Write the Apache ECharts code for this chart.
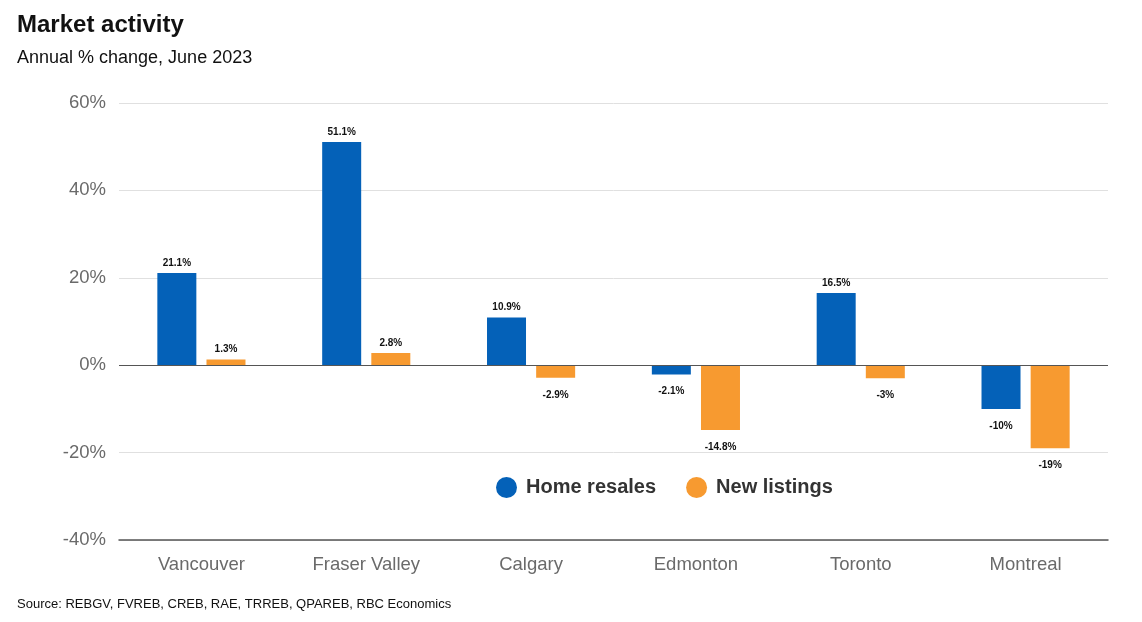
<!DOCTYPE html>
<html>
<head>
<meta charset="utf-8">
<script src="https://cdn.jsdelivr.net/npm/echarts@6/dist/echarts.min.js"></script>
<style>
html,body{margin:0;padding:0;background:#fff;}
#chart{width:1142px;height:622px;}
</style>
</head>
<body>
<div id="chart"></div>
<script>
const categories = ['Vancouver', 'Fraser Valley', 'Calgary', 'Edmonton', 'Toronto', 'Montreal'];
const homeResales = [21.1, 51.1, 10.9, -2.1, 16.5, -10];
const newListings = [1.3, 2.8, -2.9, -14.8, -3, -19];
const yTicks = [-40, -20, 0, 20, 40, 60];

const FONT = 'Liberation Sans, Arial, Helvetica, sans-serif';

function toItems(arr) {
  return arr.map(v => ({
    value: v,
    label: { position: v >= 0 ? 'top' : 'bottom', distance: v >= 0 ? 5 : 12 }
  }));
}

const labelStyle = {
  show: true,
  formatter: p => p.value + '%',
  fontFamily: FONT,
  fontSize: 10,
  fontWeight: 'bold',
  color: '#111'
};

const chart = echarts.init(document.getElementById('chart'), null, { renderer: 'canvas' });
chart.setOption({
  animation: false,
  backgroundColor: '#fff',
  title: [
    { text: 'Market activity', left: 12, top: 8, textStyle: { fontFamily: FONT, fontSize: 24, fontWeight: 'bold', color: '#111' } },
    { text: 'Annual % change, June 2023', left: 12, top: 44, textStyle: { fontFamily: FONT, fontSize: 18, fontWeight: 'normal', color: '#111' } },
    { text: 'Source: REBGV, FVREB, CREB, RAE, TRREB, QPAREB, RBC Economics', left: 12, top: 593, textStyle: { fontFamily: FONT, fontSize: 13, fontWeight: 'normal', color: '#111' } }
  ],
  legend: {
    left: 491, top: 472,
    icon: 'circle', itemWidth: 21, itemHeight: 21, itemGap: 30,
    textStyle: { fontFamily: FONT, fontSize: 20, fontWeight: 'bold', color: '#333', padding: [0, 0, 0, 4] },
    data: ['Home resales', 'New listings']
  },
  grid: { left: 119, right: 34, top: 103, bottom: 82, containLabel: false },
  xAxis: {
    type: 'category',
    data: categories,
    axisLine: { onZero: false, lineStyle: { color: '#555', width: 1.5 } },
    axisTick: { show: false },
    axisLabel: { fontFamily: FONT, fontSize: 18.5, color: '#6a6a6a', margin: 15 }
  },
  yAxis: {
    type: 'value',
    min: yTicks[0], max: yTicks[yTicks.length - 1], interval: 20,
    axisLine: { show: false },
    axisTick: { show: false },
    axisLabel: { fontFamily: FONT, fontSize: 18.5, color: '#6a6a6a', margin: 13, formatter: v => v + '%' },
    splitLine: { lineStyle: { color: '#e0e0e0', width: 1 } }
  },
  series: [
    {
      name: 'Home resales', type: 'bar', data: toItems(homeResales),
      itemStyle: { color: '#0461B8' },
      barWidth: 39, barGap: '26%',
      label: labelStyle,
      markLine: {
        silent: true, symbol: 'none', label: { show: false },
        lineStyle: { color: '#555', type: 'solid', width: 1.2 },
        data: [{ yAxis: 0 }]
      }
    },
    {
      name: 'New listings', type: 'bar', data: toItems(newListings),
      itemStyle: { color: '#F79A30' },
      barWidth: 39,
      label: labelStyle
    }
  ]
});
</script>
</body>
</html>
